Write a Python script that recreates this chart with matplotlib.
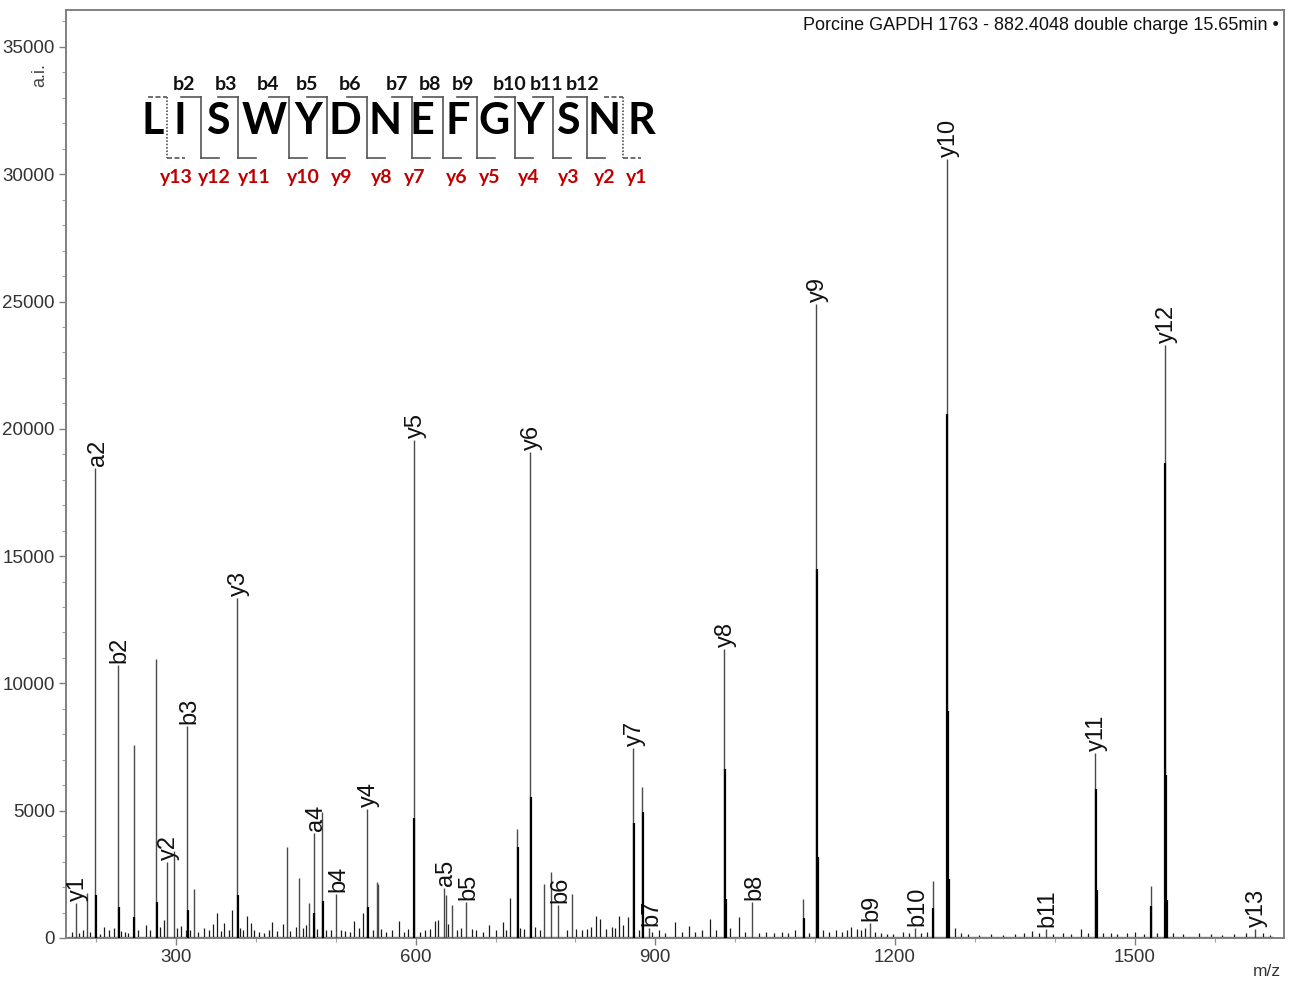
import matplotlib
matplotlib.use("Agg")
import matplotlib.pyplot as plt
from matplotlib.ticker import MultipleLocator

# ---------------- data ----------------
ion_labels = ['y1', 'a2', 'b2', 'y2', 'b3', 'y3', 'a4', 'b4', 'y4', 'y5', 'a5', 'b5', 'y6',
              'b6', 'y7', 'b7', 'y8', 'b8', 'y9', 'b9', 'b10', 'y10', 'b11', 'y11', 'y12', 'y13']
ion_mz = [175.12, 199.18, 227.18, 289.16, 314.21, 376.19, 472.30, 500.29, 539.26, 597.5,
          635.35, 663.35, 743.35, 778.38, 872.39, 892.42, 986.43, 1021.47, 1101.46, 1168.53,
          1225.55, 1264.52, 1388.62, 1450.60, 1537.63, 1650.72]
ion_int = [1375, 18460, 10720, 2985, 8330, 13355, 4110, 1730, 5067, 19560,
           1950, 1400, 19090, 1300, 7463, 400, 11350, 1400, 24900, 575,
           380, 30600, 340, 7280, 23300, 350]

other_mz = [188.6, 247.0, 275.0, 297.7, 323.0, 438.6, 454.0, 466.0, 483.0, 551.0, 553.0,
            638.0, 646.0, 726.5, 761.0, 769.5, 795.8, 883.0, 1084.6, 1247.0, 1520.0]
other_int = [1770, 7580, 10960, 3430, 1925, 3590, 2370, 1390, 4950, 2210, 2120,
             1690, 1300, 4280, 2110, 2605, 1730, 5945, 1530, 2240, 2040]

iso_mz = [200.18, 228.18, 248.0, 276.0, 315.21, 377.19, 473.30, 484.0, 540.26, 598.5,
          727.5, 744.35, 873.39, 884.0, 987.43, 988.43, 1085.6, 1102.46, 1103.46, 1248.0,
          1265.52, 1266.52, 1267.52, 1451.60, 1452.60, 1521.0, 1538.63, 1539.63, 1540.63]
iso_int = [1690, 1230, 840, 1425, 1100, 1690, 970, 1465, 1230, 4700,
           3590, 5550, 4505, 4960, 6625, 1530, 785, 14500, 3200, 1165,
           20600, 8900, 2300, 5850, 1885, 1255, 18660, 6400, 1490]

noise_mz = [170, 178, 183, 192, 205, 210, 216, 222, 231, 236, 240, 252, 262, 268, 280, 285,
            301, 306, 312, 318, 328, 335, 341, 346, 351, 356, 360, 366, 370.5, 380, 384,
            388.5, 394, 398, 404, 410, 416, 420.6, 426, 433.6, 443, 450, 459, 463, 477, 488,
            494, 506, 512, 518, 523, 529, 533.7, 546, 557, 563, 570, 579.6, 586, 591, 605,
            612, 618, 624, 628, 641, 652, 657, 670, 676, 684, 692, 700, 709.4, 713, 718,
            731, 736, 750, 756, 790, 801, 808, 815, 820, 826, 830.8, 838, 846, 850, 855,
            860, 866, 880, 896, 905, 912, 925, 934, 942, 950, 958, 969, 976, 993, 1005,
            1012, 1030, 1038.7, 1048, 1058, 1066, 1075, 1092, 1110, 1118, 1126, 1134, 1140,
            1144.7, 1152, 1157, 1162.6, 1175, 1182, 1190, 1198, 1210, 1218, 1233, 1240,
            1275, 1283, 1292, 1305, 1320, 1335, 1350, 1362, 1371, 1380, 1398, 1410, 1420,
            1433, 1442, 1460, 1470, 1478, 1490, 1500, 1512, 1528, 1548, 1560, 1580, 1595,
            1610, 1625, 1640, 1660.6, 1670]
noise_int = [250, 180, 300, 220, 160, 420, 300, 380, 260, 250, 200, 330, 520, 300, 450, 700,
             380, 470, 300, 300, 250, 400, 320, 550, 995, 260, 575, 300, 1100, 400, 300,
             865, 575, 300, 250, 200, 300, 615, 280, 540, 280, 445, 400, 500, 350, 300,
             300, 320, 280, 250, 680, 400, 970, 300, 350, 250, 300, 680, 250, 350, 250,
             300, 350, 650, 700, 550, 300, 400, 350, 300, 250, 510, 300, 640, 300, 1560,
             400, 350, 450, 300, 300, 350, 300, 350, 450, 860, 730, 350, 450, 400, 860,
             500, 840, 300, 250, 300, 200, 640, 250, 470, 250, 300, 735, 300, 400, 840,
             250, 200, 250, 200, 250, 200, 300, 200, 300, 250, 300, 250, 300,
             445, 350, 300, 380, 250, 200, 150, 150, 250, 200, 200, 250,
             380, 200, 150, 120, 150, 120, 150, 200, 290, 200, 150, 200, 150,
             350, 200, 180, 200, 150, 200, 250, 150, 200, 200, 150, 200, 150,
             120, 150, 200, 200, 100]

title_text = "Porcine GAPDH 1763 - 882.4048 double charge 15.65min \u2022"
sequence = ['L', 'I', 'S', 'W', 'Y', 'D', 'N', 'E', 'F', 'G', 'Y', 'S', 'N', 'R']
b_labels = ['b2', 'b3', 'b4', 'b5', 'b6', 'b7', 'b8', 'b9', 'b10', 'b11', 'b12']
y_labels = ['y13', 'y12', 'y11', 'y10', 'y9', 'y8', 'y7', 'y6', 'y5', 'y4', 'y3', 'y2', 'y1']

# ---------------- layout (pixels) ----------------
W, H = 1296, 982
letter_x = [153, 180, 218, 264, 308, 345, 385, 422, 458, 494, 530, 568, 604, 641]
sep_x = [167, 201, 238, 289, 327, 367, 412, 443, 477, 515, 553, 587, 623]
b_x = [184, 226, 268, 307, 350, 397, 430, 463, 510, 547, 583]
y_x = [176, 214, 254, 303, 342, 382, 415, 457, 490, 529, 569, 605, 637]

plt.rcParams['font.family'] = ['Liberation Sans', 'DejaVu Sans']

fig = plt.figure(figsize=(W / 100, H / 100), dpi=100)
ax = fig.add_axes([66 / W, 1 - 938 / H, (1284 - 66) / W, (938 - 10) / H])
ax.set_xlim(162.3, 1687)
ax.set_ylim(0, 36450)

# baseline
ax.hlines(0, 165, 1675, color='black', lw=1.6, zorder=2)
# noise
ax.vlines(noise_mz, 0, noise_int, color='#1a1a1a', lw=0.9, zorder=2)
# main peaks
ax.vlines(other_mz, 0, other_int, color='#4a4a4a', lw=1.0, zorder=3)
ax.vlines(ion_mz, 0, ion_int, color='#4a4a4a', lw=1.0, zorder=3)
# isotopes (darker)
ax.vlines(iso_mz, 0, iso_int, color='black', lw=1.6, zorder=4)

for lab, mz, inten in zip(ion_labels, ion_mz, ion_int):
    ax.annotate(lab, (mz, inten), xytext=(1.5, 1.5), textcoords='offset points',
                rotation=90, ha='center', va='bottom', fontsize=17, color='#111111')

# axes styling
for s in ax.spines.values():
    s.set_color('#808080')
    s.set_linewidth(1.4)
ax.xaxis.set_major_locator(MultipleLocator(300))
ax.xaxis.set_minor_locator(MultipleLocator(100))
ax.yaxis.set_major_locator(MultipleLocator(5000))
ax.yaxis.set_minor_locator(MultipleLocator(1000))
ax.tick_params(which='major', direction='out', length=5, width=1, color='#808080',
               labelsize=13.5, labelcolor='#333333', pad=3)
ax.tick_params(which='minor', direction='out', length=3, width=0.8, color='#a0a0a0')
ax.set_xticks([300, 600, 900, 1200, 1500])

ax.text(0.996, 0.992, title_text, transform=ax.transAxes, ha='right', va='top',
        fontsize=13, color='#111111')
fig.text(40 / W, 1 - 75 / H, 'a.i.', rotation=90, ha='center', va='center',
         fontsize=13, color='#444444')
fig.text(1267 / W, 1 - 971 / H, 'm/z', ha='center', va='center', fontsize=12.5,
         color='#333333')

# ---------------- sequence annotation ----------------
def fx(x):
    return x / W

def fy(y):
    return 1 - y / H

seq_font = ['Lato', 'Open Sans', 'DejaVu Sans']
for ch, x in zip(sequence, letter_x):
    fig.text(fx(x), fy(121), ch, ha='center', va='center', fontsize=31,
             fontweight='bold', family=seq_font, color='black')
for lab, x in zip(b_labels, b_x):
    fig.text(fx(x), fy(84), lab, ha='center', va='center', fontsize=14,
             fontweight='bold', family=seq_font, color='#111111')
for lab, x in zip(y_labels, y_x):
    fig.text(fx(x), fy(177), lab, ha='center', va='center', fontsize=14,
             fontweight='bold', family=seq_font, color='#c00000')

top_y, bot_y = 97, 158
line_kw = dict(color='#555555', lw=1.2, transform=fig.transFigure)
for i, x in enumerate(sep_x):
    dashed = (i == 0 or i == len(sep_x) - 1)
    ls_h = (0, (3, 1.5)) if dashed else '-'
    ls_v = (0, (1, 1)) if dashed else '-'
    left = 19 if dashed else 20
    fig.add_artist(plt.Line2D([fx(x - left), fx(x)], [fy(top_y), fy(top_y)], ls=ls_h, **line_kw))
    fig.add_artist(plt.Line2D([fx(x), fx(x)], [fy(top_y), fy(bot_y)], ls=ls_v, **line_kw))
    fig.add_artist(plt.Line2D([fx(x), fx(x + 18)], [fy(bot_y), fy(bot_y)], ls=ls_h, **line_kw))

fig.savefig('out.png', dpi=100)
